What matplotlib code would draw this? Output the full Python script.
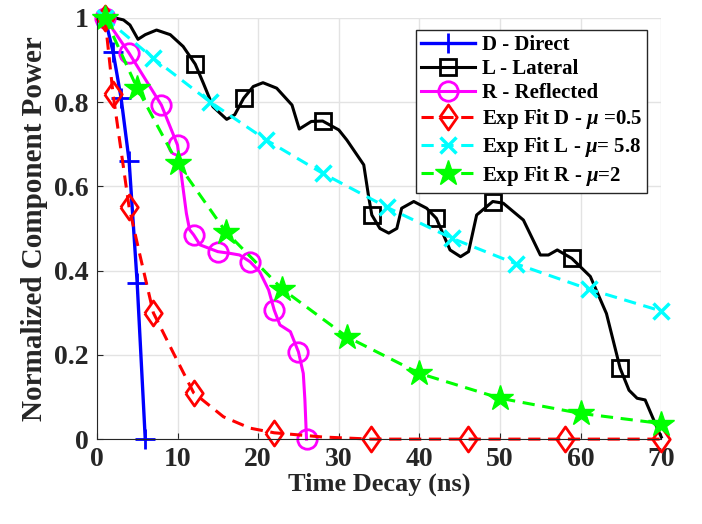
import numpy as np
import matplotlib
matplotlib.use('Agg')
import matplotlib.pyplot as plt

plt.rcParams['font.family'] = 'Liberation Serif'
plt.rcParams['font.weight'] = 'bold'
plt.rcParams['mathtext.fontset'] = 'custom'
plt.rcParams['mathtext.it'] = 'Liberation Serif:bold:italic'
plt.rcParams['mathtext.rm'] = 'Liberation Serif:bold'

# D - Direct
d_x = [1, 2, 3, 4, 5, 6]
d_y = [1, 0.92, 0.81, 0.66, 0.37, 0]

# L - Lateral (traced curve) and square marker positions
l_x = [1, 2.2, 3.3, 4.1, 5.1, 6.0, 7.4, 9.1, 10.7, 12.2, 13.2, 14.4, 16.1, 17.1,
       18.2, 19.4, 20.6, 22.3, 24.2, 25.1, 26.6, 28.0, 30.0, 31.0, 33.1, 33.7,
       34.1, 35.1, 36.2, 37.2, 37.8, 39.3, 40.9, 42.1, 43.8, 45.1, 46.1, 47.1,
       49.1, 50.4, 52.9, 55.0, 56.0, 57.1, 58.9, 61.2, 63.2, 64.9, 66.0, 67.0,
       68.0, 69.7, 70]
l_y = [1, 1.0, 0.995, 0.983, 0.949, 0.96, 0.971, 0.96, 0.932, 0.89, 0.845, 0.789,
       0.759, 0.77, 0.809, 0.837, 0.846, 0.833, 0.793, 0.736, 0.754, 0.755, 0.734,
       0.71, 0.651, 0.576, 0.532, 0.50, 0.489, 0.50, 0.548, 0.564, 0.548, 0.524,
       0.449, 0.433, 0.445, 0.532, 0.564, 0.56, 0.52, 0.437, 0.437, 0.449, 0.429,
       0.386, 0.298, 0.168, 0.116, 0.097, 0.093, 0.017, 0.005]
l_marks = [12.2, 18.2, 28.0, 34.1, 42.1, 49.1, 58.9, 64.9]

# R - Reflected
r_x = [1, 4, 8, 10, 10.5, 11.1, 11.5, 12, 12.8, 15, 16.5, 17.7, 19, 20.2, 21.3,
       22, 22.7, 24, 25, 25.6, 25.8, 26]
r_y = [1, 0.916, 0.793, 0.698, 0.623, 0.536, 0.497, 0.485, 0.461, 0.445, 0.441,
       0.437, 0.421, 0.397, 0.354, 0.306, 0.271, 0.255, 0.207, 0.156, 0.093, 0]
r_marks = [1, 4, 8, 10, 12, 15, 19, 22, 25, 26]

# Exponential fits
ed_x = [1, 2, 4, 5.3, 7, 9.5, 12, 15.7, 19, 22, 28, 34, 46, 58, 70]
ed_y = [1, 0.82, 0.55, 0.44, 0.30, 0.204, 0.11, 0.053, 0.026, 0.015, 0.005, 0, 0, 0, 0]
ed_marks = [1, 2, 4, 7, 12, 22, 34, 46, 58, 70]

el_x = [1, 7, 14, 21, 28, 36, 44, 52, 61, 70]
el_y = [1, 0.904, 0.801, 0.71, 0.631, 0.55, 0.477, 0.416, 0.356, 0.304]

er_x = [1, 5, 10, 16, 23, 31, 40, 50, 60, 70]
er_y = [1, 0.833, 0.655, 0.492, 0.356, 0.243, 0.156, 0.097, 0.061, 0.037]

labels = ['D - Direct', 'L - Lateral', 'R - Reflected',
          r'Exp Fit D - $\mu$ =0.5', r'Exp Fit L - $\mu$= 5.8', r'Exp Fit R - $\mu$=2']

diamond = [(-0.7, 0), (0, 1), (0.7, 0), (0, -1), (-0.7, 0)]
dash = (0, (4, 2.5))

fig = plt.figure(figsize=(7.02, 5.24), dpi=100)
ax = fig.add_axes([0.138, 0.162, 0.804, 0.804])

ax.plot(d_x, d_y, color='#0000ff', lw=2.4, marker='+', ms=15, mew=2, label=labels[0], clip_on=False)
ax.plot(l_x, l_y, color='k', lw=2.2, marker='s', ms=12, mew=2, mfc='none',
        markevery=[l_x.index(v) for v in l_marks], label=labels[1], clip_on=False)
ax.plot(r_x, r_y, color='#ff00ff', lw=2.2, marker='o', ms=14, mew=2, mfc='none',
        markevery=[r_x.index(v) for v in r_marks], label=labels[2], clip_on=False)
ax.plot(ed_x, ed_y, color='#ff0000', lw=2.2, ls=dash, marker=diamond, ms=18, mew=2, mfc='none',
        markevery=[ed_x.index(v) for v in ed_marks], label=labels[3], clip_on=False)
ax.plot(el_x, el_y, color='#00ffff', lw=2.2, ls=dash, marker='x', ms=11, mew=2.5,
        label=labels[4], clip_on=False)
ax.plot(er_x, er_y, color='#00ff00', lw=2.2, ls=dash, marker='*', ms=19, mew=1,
        label=labels[5], clip_on=False)

ax.set_xlim(0, 70)
ax.set_ylim(0, 1)
ax.set_xticks(range(0, 71, 10))
ax.set_yticks([0, 0.2, 0.4, 0.6, 0.8, 1])
ax.set_yticklabels(['0', '0.2', '0.4', '0.6', '0.8', '1'])
ax.grid(True, color='#e3e3e3', lw=1)
ax.set_axisbelow(True)
for s in ['top', 'right']:
    ax.spines[s].set_visible(False)
for s in ['left', 'bottom']:
    ax.spines[s].set_color('#262626')
ax.tick_params(direction='in', length=4, colors='#262626', labelsize=20, pad=6)
for t in ax.get_xticklabels() + ax.get_yticklabels():
    t.set_fontweight('bold')

ax.set_xlabel('Time Decay (ns)', fontsize=19, fontweight='bold', color='#262626', labelpad=0)
ax.set_ylabel('Normalized Component Power', fontsize=21, fontweight='bold', color='#262626')

leg = ax.legend(loc='upper right', bbox_to_anchor=(0.975, 0.972), fontsize=15,
                fancybox=False, framealpha=1, edgecolor='#262626', handlelength=2.6,
                labelspacing=0.2, borderpad=0.25, handletextpad=0.3, borderaxespad=0)
leg.get_frame().set_linewidth(1)

fig.savefig('out.png', dpi=100)
